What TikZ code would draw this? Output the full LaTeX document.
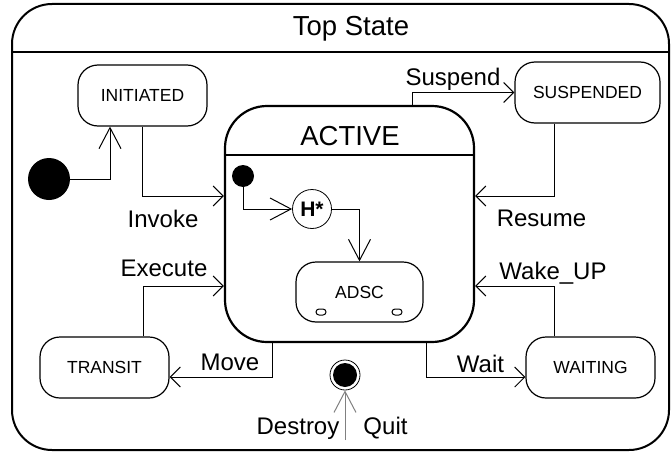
\documentclass[tikz,border=0pt]{standalone}
\usepackage{fontspec}
\setmainfont{Liberation Sans}
\usetikzlibrary{arrows.meta,calc}
\begin{document}
\begin{tikzpicture}[x=1pt,y=-1pt,
  statebox/.style={draw,line width=1.2pt,rounded corners=20pt,inner sep=0pt,
    font=\fontsize{17.5}{20}\selectfont,minimum height=61pt},
  lbl/.style={inner sep=0pt,anchor=base,font=\fontsize{24}{28}\selectfont},
  conn/.style={line width=1pt},
  sarr/.style={conn,-{Straight Barb[length=10pt,width=20pt]}},
  larr/.style={conn,-{Straight Barb[length=21pt,width=22pt]}},
]
\useasboundingbox (0,0) rectangle (671,452);
% outer state
\node[draw,line width=2pt,rounded corners=40pt,minimum width=657pt,minimum height=446pt,inner sep=0pt] (topstate) at (340.5,227) {};
\draw[line width=1.5pt] ([yshift=175pt]topstate.west) -- ([yshift=175pt]topstate.east);
\node[inner sep=0pt,anchor=base,font=\fontsize{27.5}{30}\selectfont] (toptitle) at (351,36) {Top State};
% ACTIVE
\node[draw,line width=2.2pt,rounded corners=42pt,minimum width=249pt,minimum height=236pt,inner sep=0pt] (ACTIVE) at (349.5,224) {};
\draw[line width=1.5pt] ([yshift=69pt]ACTIVE.west) -- ([yshift=69pt]ACTIVE.east);
\node[inner sep=0pt,anchor=base,font=\fontsize{27.5}{30}\selectfont] (activetitle) at (350,145) {ACTIVE};
% simple states
\node[statebox,minimum width=129pt] (INITIATED) at (142.5,95.5) {INITIATED};
\node[statebox,minimum width=145pt] (SUSPENDED) at (587.5,92.5) {SUSPENDED};
\node[statebox,minimum width=129pt] (TRANSIT) at (104.5,367.5) {TRANSIT};
\node[statebox,minimum width=129pt] (WAITING) at (590.5,367.5) {WAITING};
\node[statebox,minimum width=127pt,minimum height=60pt] (ADSC) at (359.5,292) {ADSC};
\draw[line width=1pt,rounded corners=3pt] (316,309) rectangle (326,315);
\draw[line width=1pt,rounded corners=3pt] (392,309) rectangle (402,315);
% pseudo states
\node[circle,fill,minimum size=42pt,inner sep=0pt] (init) at (49,179) {};
\node[circle,fill,minimum size=22pt,inner sep=0pt] (idot) at (243,176) {};
\node[circle,draw,line width=0.8pt,minimum size=39pt,inner sep=0pt,font=\bfseries\fontsize{21}{24}\selectfont] (H) at (312,209) {H*};
\node[circle,draw,line width=0.8pt,minimum size=30pt,inner sep=0pt] (final) at (345,375) {};
\fill (final.center) circle[radius=12];
\coordinate (fbot) at (345,440);
% transitions
\draw[larr] (init.east) -| ([xshift=-32.5pt]INITIATED.south);
\draw[sarr] (INITIATED.south) |- ([yshift=28pt]ACTIVE.west);
\draw[sarr] ([xshift=38.5pt]TRANSIT.north) |- ([yshift=-62pt]ACTIVE.west);
\draw[sarr] ([xshift=-77.5pt]ACTIVE.south) |- ([yshift=-9.5pt]TRANSIT.east);
\draw[sarr] ([xshift=76.5pt]ACTIVE.south) |- ([yshift=-9.5pt]WAITING.west);
\draw[sarr] ([xshift=62.5pt]ACTIVE.north) |- (SUSPENDED.west);
\draw[sarr] ([xshift=-33.5pt]SUSPENDED.south) |- ([yshift=28pt]ACTIVE.east);
\draw[sarr] ([xshift=-36.5pt]WAITING.north) |- ([yshift=-62pt]ACTIVE.east);
\draw[larr] (idot.south) |- (H.west);
\draw[larr] (H.east) -| (ADSC.north);
\draw[larr,gray] (fbot) -- (final.south);
% labels
\node[lbl] (lsuspend) at (453,85) {Suspend};
\node[lbl] (linvoke) at (163,227) {Invoke};
\node[lbl] (lexecute) at (164,276) {Execute};
\node[lbl] (lresume) at (541.5,226) {Resume};
\node[lbl] (lwake) at (553,279) {Wake\_UP};
\node[lbl] (lmove) at (230,370) {Move};
\node[lbl] (lwait) at (480.5,372) {Wait};
\node[lbl] (ldestroy) at (298,434) {Destroy};
\node[lbl] (lquit) at (385.5,434) {Quit};
\end{tikzpicture}
\end{document}
